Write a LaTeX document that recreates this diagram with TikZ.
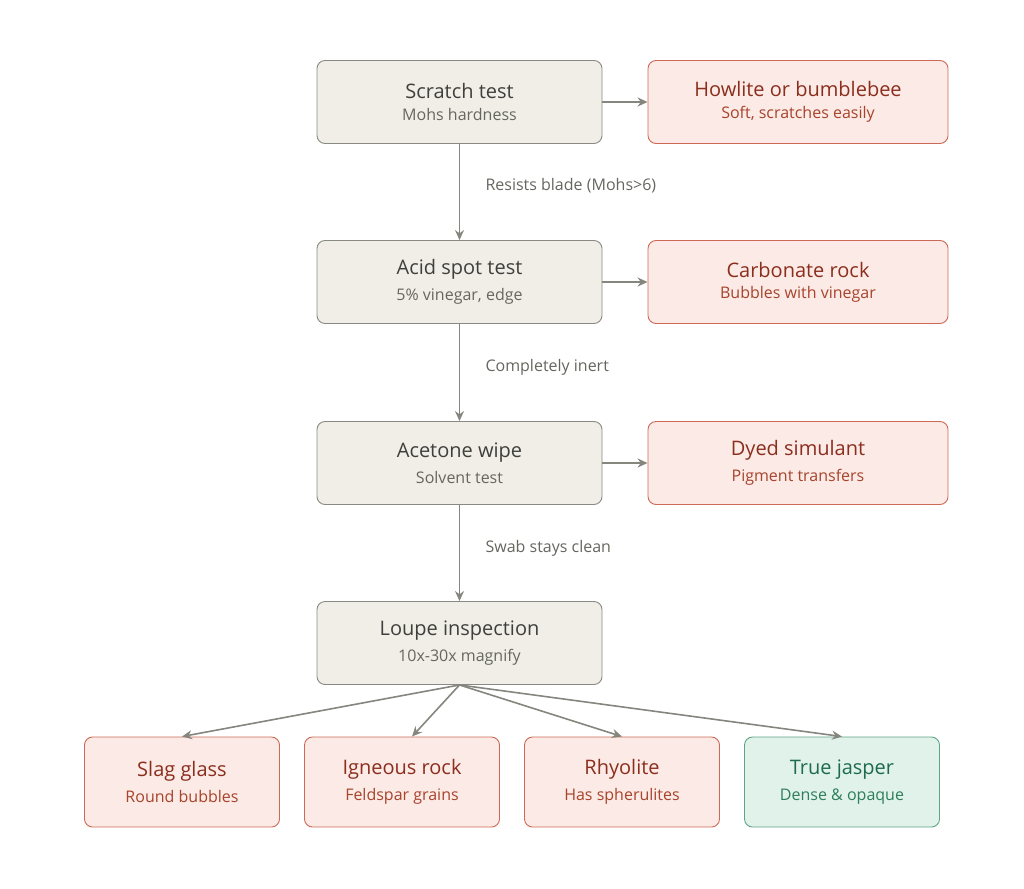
\documentclass[tikz,border=0pt]{standalone}
\usepackage{fontspec}
\setmainfont{Open Sans}
\usetikzlibrary{arrows.meta}
\definecolor{gfill}{HTML}{F1EEE8}\definecolor{gdraw}{HTML}{8A8A85}
\definecolor{rfill}{HTML}{FBEAE5}\definecolor{rdraw}{HTML}{CD6A55}
\definecolor{rtxt}{HTML}{8B2E1E}\definecolor{rsub}{HTML}{A8432C}
\definecolor{nfill}{HTML}{E0F2EA}\definecolor{ndraw}{HTML}{5FA585}
\definecolor{ntxt}{HTML}{1E6B4E}\definecolor{ntsub}{HTML}{2E7D5C}
\definecolor{gtxt}{HTML}{3F3F3C}\definecolor{gsub}{HTML}{66665F}
\definecolor{arr}{HTML}{86867F}
\begin{document}
\begin{tikzpicture}[x=1pt,y=-1pt,
 box/.style={rounded corners=8pt,line width=0.9pt,minimum height=83pt,align=center,inner sep=0pt},
 testbox/.style={box,fill=gfill,draw=gdraw,minimum width=285pt},
 bad/.style={box,fill=rfill,draw=rdraw,minimum width=300pt},
 badb/.style={box,fill=rfill,draw=rdraw,minimum width=195pt,minimum height=90pt},
 good/.style={box,fill=nfill,draw=ndraw,minimum width=195pt,minimum height=90pt},
 a/.style={draw=arr,line width=1.6pt,-{Stealth[length=10pt,width=9pt]}},
 lab/.style={anchor=west,font=\fontsize{16}{18}\selectfont,text=gsub}]
\useasboundingbox (0,0) rectangle (1024,888);
\newcommand{\gt}[2]{{\fontsize{20}{24}\selectfont\color{gtxt}#1}\\[8pt]{\fontsize{16}{18}\selectfont\color{gsub}#2}}
\newcommand{\rt}[2]{{\fontsize{20}{24}\selectfont\color{rtxt}#1}\\[8pt]{\fontsize{16}{18}\selectfont\color{rsub}#2}}
\newcommand{\nt}[2]{{\fontsize{20}{24}\selectfont\color{ntxt}#1}\\[8pt]{\fontsize{16}{18}\selectfont\color{ntsub}#2}}
\node[testbox] (s1) at (459.5,102) {\gt{Scratch test}{Mohs hardness}};
\node[testbox] (s2) at (459.5,282) {\gt{Acid spot test}{5\% vinegar, edge}};
\node[testbox] (s3) at (459.5,463) {\gt{Acetone wipe}{Solvent test}};
\node[testbox] (s4) at (459.5,643) {\gt{Loupe inspection}{10x-30x magnify}};
\node[bad] (r1) at (798,102) {\rt{Howlite or bumblebee}{Soft, scratches easily}};
\node[bad] (r2) at (798,282) {\rt{Carbonate rock}{Bubbles with vinegar}};
\node[bad] (r3) at (798,463) {\rt{Dyed simulant}{Pigment transfers}};
\node[badb] (b1) at (182,782) {\rt{Slag glass}{Round bubbles}};
\node[badb] (b2) at (402,782) {\rt{Igneous rock}{Feldspar grains}};
\node[badb] (b3) at (622,782) {\rt{Rhyolite}{Has spherulites}};
\node[good] (b4) at (842,782) {\nt{True jasper}{Dense \& opaque}};
\draw[a] (s1) -- (s2);
\draw[a] (s2) -- (s3);
\draw[a] (s3) -- (s4);
\draw[a] (s1) -- (r1);
\draw[a] (s2) -- (r2);
\draw[a] (s3) -- (r3);
\draw[a] (s4.south) -- (b1.north);
\draw[a] (s4.south) -- ([xshift=10pt]b2.north);
\draw[a] (s4.south) -- (b3.north);
\draw[a] (s4.south) -- (b4.north);
\node[lab] at (482,186) {Resists blade (Mohs>6)};
\node[lab] at (482,367) {Completely inert};
\node[lab] at (482,548) {Swab stays clean};
\end{tikzpicture}
\end{document}
